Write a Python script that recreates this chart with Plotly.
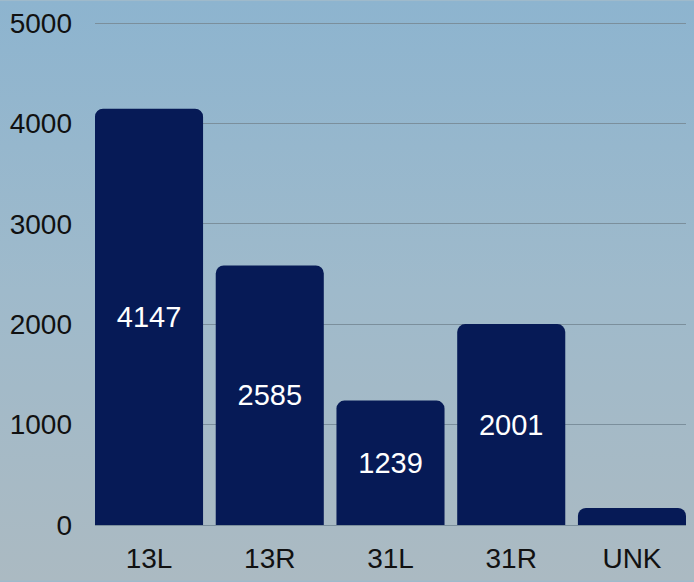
import base64
import plotly.graph_objects as go

categories = ["13L", "13R", "31L", "31R", "UNK"]
values = [4147, 2585, 1239, 2001, 170]
labels = ["4147", "2585", "1239", "2001", ""]
y_ticks = [0, 1000, 2000, 3000, 4000, 5000]

W, H = 694, 582
svg = f'''<svg xmlns="http://www.w3.org/2000/svg" width="{W}" height="{H}" preserveAspectRatio="none">
<defs><linearGradient id="g" x1="0" y1="0" x2="0" y2="1">
<stop offset="0" stop-color="#8db4cf"/>
<stop offset="0.5" stop-color="#9fbacb"/>
<stop offset="1" stop-color="#abbac2"/>
</linearGradient></defs>
<rect width="{W}" height="{H}" fill="url(#g)"/></svg>'''
src = "data:image/svg+xml;base64," + base64.b64encode(svg.encode()).decode()

L, R, T, B = 95, 8, 17, 56
pw = W - L - R
ph = H - T - B

font = "Liberation Sans, Arial, sans-serif"
bar_w = 0.895

fig = go.Figure(go.Bar(
    x=categories, y=values, text=labels,
    textposition="inside", insidetextanchor="middle",
    textfont=dict(color="white", size=29, family=font),
    marker=dict(color="#061a56", cornerradius=8, line=dict(width=0)),
    width=bar_w,
))

fig.update_layout(
    width=W, height=H,
    margin=dict(l=L, r=R, t=T, b=B),
    paper_bgcolor="#9fbacb",
    plot_bgcolor="rgba(0,0,0,0)",
    showlegend=False,
    images=[dict(source=src, xref="paper", yref="paper",
                 x=-L / pw, y=1 + T / ph, sizex=W / pw, sizey=H / ph,
                 sizing="stretch", layer="below", xanchor="left", yanchor="top")],
    xaxis=dict(range=[-bar_w / 2, len(categories) - 1 + bar_w / 2],
               showgrid=False, showline=False, ticks="",
               tickfont=dict(size=28, family=font, color="#111111"),
               ticklabelstandoff=14, fixedrange=True),
    yaxis=dict(range=[0, 5050], tickvals=y_ticks, showgrid=True,
               gridcolor="#7b8f9c", gridwidth=1,
               zeroline=True, zerolinecolor="#7b8f9c", zerolinewidth=1,
               tickfont=dict(size=28, family=font, color="#111111"),
               ticks="", ticklabelstandoff=22, showline=False, fixedrange=True),
)

fig.write_html("out.html", config={"displayModeBar": False},
               post_script="document.body.style.margin='0px';")
